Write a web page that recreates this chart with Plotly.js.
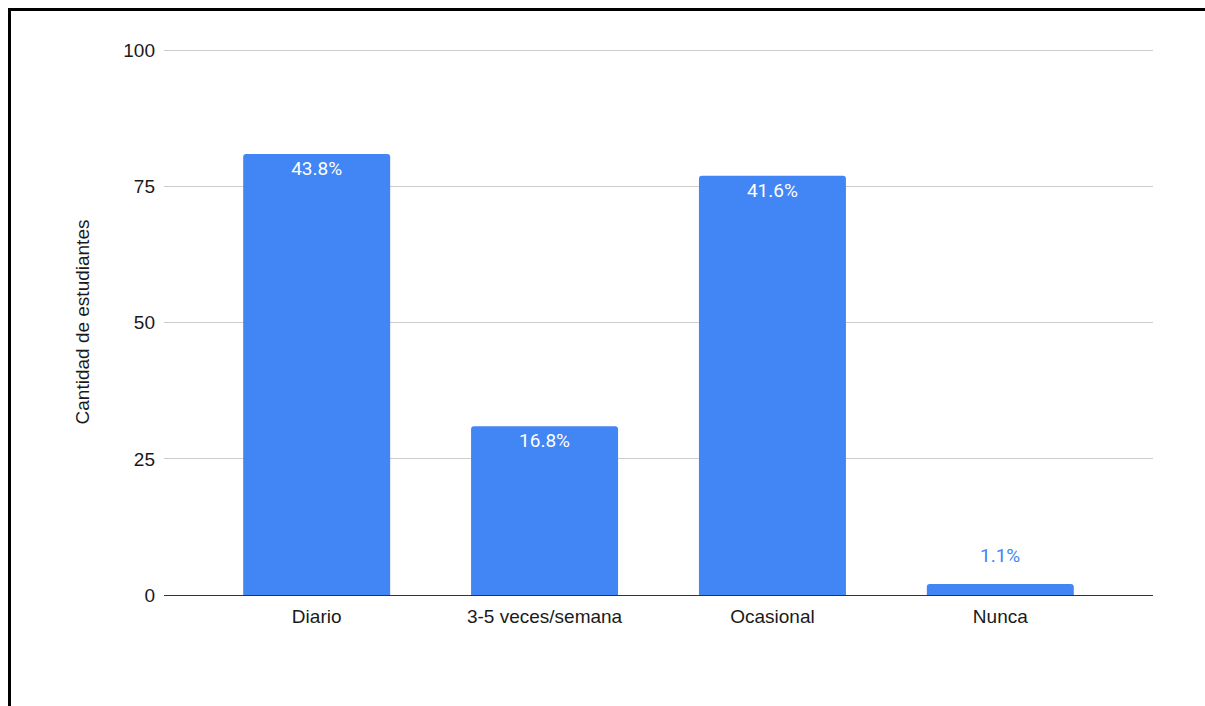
<!DOCTYPE html>
<html>
<head>
<meta charset="utf-8">
<script src="https://cdn.plot.ly/plotly-3.0.1.min.js"></script>
<style>
  html, body { margin: 0; padding: 0; background: #fff; }
  #chart { position: absolute; left: 0; top: 0; width: 1205px; height: 706px; }
  #frame { position: absolute; left: 8px; top: 8px; width: 1197px; height: 698px;
           border-top: 3px solid #000; border-left: 3px solid #000; box-sizing: border-box; pointer-events: none; }
</style>
</head>
<body>
<div id="chart"></div>
<div id="frame"></div>
<script>
const categories = ["Diario", "3-5 veces/semana", "Ocasional", "Nunca"];
const counts = [81, 31, 77, 2];
const pctLabels = ["43.8%", "16.8%", "41.6%", "1.1%"];
const yTicks = [0, 25, 50, 75, 100];

const barColor = "#4285f4";
const axisFont = { family: "Liberation Sans, Arial, sans-serif", size: 19, color: "#1a1a1a" };
const labelFont = { family: "Roboto, sans-serif", size: 19 };

// bars too short for an inside label get their label above the bar
const isSmall = counts.map(v => v < 10);

const trace = {
  type: "bar",
  x: categories,
  y: counts,
  text: pctLabels.map((t, i) => isSmall[i] ? "" : t),
  textposition: "inside",
  insidetextanchor: "end",
  insidetextfont: Object.assign({ color: "#ffffff" }, labelFont),
  textangle: 0,
  cliponaxis: false,
  marker: { color: barColor, cornerradius: 3 },
  hoverinfo: "x+y"
};

const annotations = categories
  .map((c, i) => ({ c, i }))
  .filter(o => isSmall[o.i])
  .map(o => ({
    x: o.c, y: counts[o.i], xref: "x", yref: "y",
    text: pctLabels[o.i], showarrow: false,
    yanchor: "bottom", yshift: 15,
    font: Object.assign({ color: barColor }, labelFont)
  }));

const layout = {
  width: 1205,
  height: 706,
  margin: { l: 164, r: 52, t: 49, b: 111 },
  paper_bgcolor: "#ffffff",
  plot_bgcolor: "#ffffff",
  showlegend: false,
  bargap: 0.355,
  font: axisFont,
  annotations: annotations,
  xaxis: {
    type: "category",
    range: [-0.67, 3.67],
    showgrid: false,
    showline: false,
    zeroline: false,
    ticks: "",
    ticklabelstandoff: 8,
    tickfont: axisFont,
    fixedrange: true
  },
  yaxis: {
    range: [0, 100.3],
    tickvals: yTicks,
    ticktext: yTicks.map(String),
    showgrid: true,
    gridcolor: "#cccccc",
    gridwidth: 1,
    zeroline: true,
    zerolinecolor: "#333333",
    zerolinewidth: 1,
    showline: false,
    ticks: "",
    ticklabelstandoff: 8,
    tickfont: axisFont,
    title: { text: "Cantidad de estudiantes", font: axisFont, standoff: 28 },
    fixedrange: true
  }
};

Plotly.newPlot("chart", [trace], layout, { displayModeBar: false, staticPlot: true });
</script>
</body>
</html>
